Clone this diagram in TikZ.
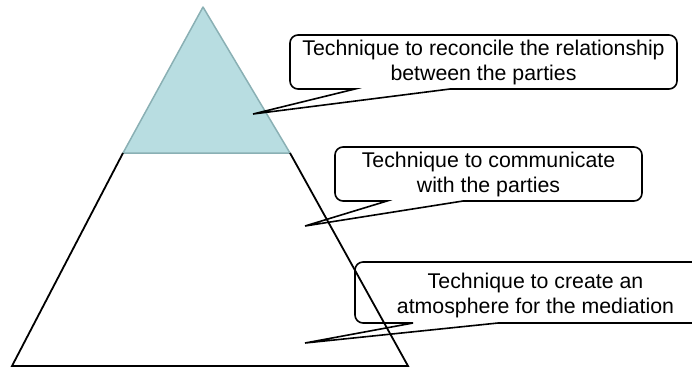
\documentclass[tikz,border=0pt]{standalone}
\usepackage{fontspec}
\setmainfont{Liberation Sans}
\usetikzlibrary{arrows.meta}
\tikzset{>=Stealth}
\definecolor{tipfill}{RGB}{184,221,225}
\definecolor{tipline}{RGB}{138,176,180}
\tikzset{
    tiptri/.style={fill=tipfill,draw=tipline,line width=1.5pt,line join=round},
    basetri/.style={draw=black,line width=1.8pt},
    balloon/.style={draw=black,line width=1.6pt},
    note/.style={align=center,font=\fontsize{21.3}{25}\selectfont,inner sep=0pt}
}

\begin{document}
\begin{tikzpicture}[x=1pt,y=-1pt]
    \useasboundingbox (0,0) rectangle (692,368);
    \clip (0,0) rectangle (692,368);
    % pyramid
    \draw[tiptri] (203,7) -- (290,153) -- (123,153) -- cycle;
    \draw[basetri] (123,153) -- (12,366) -- (408,366) -- (290,153);
    % callouts
    \node[note] (relTxt) at (483.5,62) {Technique to reconcile the relationship\\between the parties};
    \coordinate (relTip) at (253,114);
    \draw[balloon] (relTip) -- (450,89) [rounded corners=8pt] -- (677,89) -- (677,35)
        -- (290,35) -- (290,89) [sharp corners] -- (355,89) -- cycle;
    \node[note] (comTxt) at (488.5,174) {Technique to communicate\\with the parties};
    \coordinate (comTip) at (305,226);
    \draw[balloon] (comTip) -- (463,201) [rounded corners=8pt] -- (642,201) -- (642,147)
        -- (335,147) -- (335,201) [sharp corners] -- (387,201) -- cycle;
    \node[note] (atmTxt) at (535.5,295) {Technique to create an\\atmosphere for the mediation};
    \coordinate (atmTip) at (305,343);
    \draw[balloon] (atmTip) -- (498,323) [rounded corners=8pt] -- (715,323) -- (715,262)
        -- (355,262) -- (355,323) [sharp corners] -- (413,323) -- cycle;
\end{tikzpicture}
\end{document}
